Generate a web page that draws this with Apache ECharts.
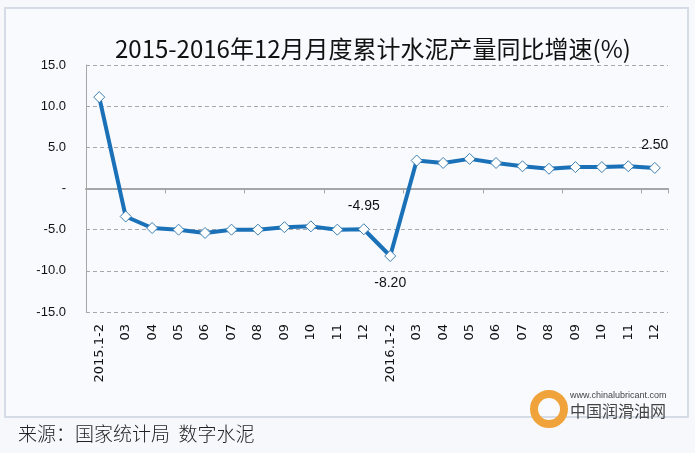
<!DOCTYPE html>
<html>
<head>
<meta charset="utf-8">
<script src="https://cdn.jsdelivr.net/npm/echarts@6/dist/echarts.min.js"></script>
<style>
html,body{margin:0;padding:0;background:#f6f8fb;}
#chart{width:695px;height:453px;}
</style>
</head>
<body>
<div id="chart"></div>
<script>
var categories = ['2015.1-2','03','04','05','06','07','08','09','10','11','12',
                  '2016.1-2','03','04','05','06','07','08','09','10','11','12'];
var growth = [11.1, -3.4, -4.8, -5.0, -5.4, -5.0, -5.0, -4.7, -4.6, -5.0, -4.95,
              -8.20, 3.4, 3.1, 3.6, 3.1, 2.7, 2.4, 2.6, 2.6, 2.7, 2.50];
var labelled = {10: 'top', 11: 'bottom', 21: 'top'};
var yTicks = {min: -15, max: 15, interval: 5};
var titleText = '2015-2016年12月月度累计水泥产量同比增速(%)';
var sourceText = '来源：国家统计局  数字水泥';

var chart = echarts.init(document.getElementById('chart'));
var seriesData = growth.map(function (v, i) {
  var d = {value: v};
  if (labelled[i]) {
    d.label = {show: true, position: labelled[i], distance: labelled[i] === 'bottom' ? 14 : 10,
      formatter: function (p) { return p.value.toFixed(2); }};
  }
  return d;
});
chart.setOption({
  backgroundColor: '#f6f8fb',
  graphic: [
    {type: 'rect', shape: {x: 5, y: 8, width: 683, height: 409},
      style: {fill: '#f8fafd', stroke: '#d5dce6', lineWidth: 2}, z: -10},
    {type: 'text', left: 18, top: 424,
      style: {text: sourceText, fontSize: 19, fill: '#222', fontFamily: 'Noto Sans CJK SC', fontWeight: 300}},
    {type: 'circle', shape: {cx: 549, cy: 409, r: 15},
      style: {fill: 'none', stroke: '#f0a33a', lineWidth: 8}, z: 5},
    {type: 'text', left: 570, top: 391,
      style: {text: 'www.chinalubricant.com', fontSize: 9, fill: '#444', fontFamily: 'Liberation Sans Narrow, Liberation Sans'}, z: 5},
    {type: 'text', left: 570, top: 403,
      style: {text: '中国润滑油网', fontSize: 16, fill: '#444', fontFamily: 'Noto Sans CJK SC'}, z: 5}
  ],
  title: {
    text: titleText, left: 110, top: 32,
    textStyle: {fontSize: 24, fontWeight: 'normal', color: '#111', fontFamily: 'Noto Sans CJK SC'}
  },
  grid: {left: 86, right: 27, top: 65, bottom: 141},
  xAxis: [
    {type: 'category', data: categories, position: 'bottom',
      axisLine: {show: false, onZero: false}, axisTick: {show: false},
      axisLabel: {rotate: 90, margin: 12, fontSize: 13, color: '#111', fontFamily: 'DejaVu Sans'},
      splitLine: {show: false}},
    {type: 'category', data: categories, position: 'top',
      axisLine: {show: true, onZero: true, lineStyle: {color: '#a6a6a6', width: 2}},
      axisTick: {show: true, inside: true, length: 5, lineStyle: {color: '#a6a6a6', width: 1}},
      axisLabel: {show: false}, splitLine: {show: false}}
  ],
  yAxis: {
    type: 'value', min: yTicks.min, max: yTicks.max, interval: yTicks.interval,
    axisLine: {show: true, lineStyle: {color: '#a6a6a6', width: 1}},
    axisTick: {show: false},
    axisLabel: {margin: 20, fontSize: 13, color: '#111', fontFamily: 'Liberation Sans',
      formatter: function (v) { return v === 0 ? '-' : v.toFixed(1); }},
    splitLine: {show: true, lineStyle: {color: '#a8a8a8', type: [4, 3], width: 1}}
  },
  series: [{
    type: 'line', xAxisIndex: 0, data: seriesData,
    lineStyle: {color: '#1a71b8', width: 4},
    symbol: 'diamond', symbolSize: [11, 11],
    itemStyle: {color: '#ffffff', borderColor: '#3d7fb0', borderWidth: 1},
    label: {show: false, fontSize: 14, color: '#111', fontFamily: 'Liberation Sans'},
    animation: false
  }]
});
</script>
</body>
</html>
